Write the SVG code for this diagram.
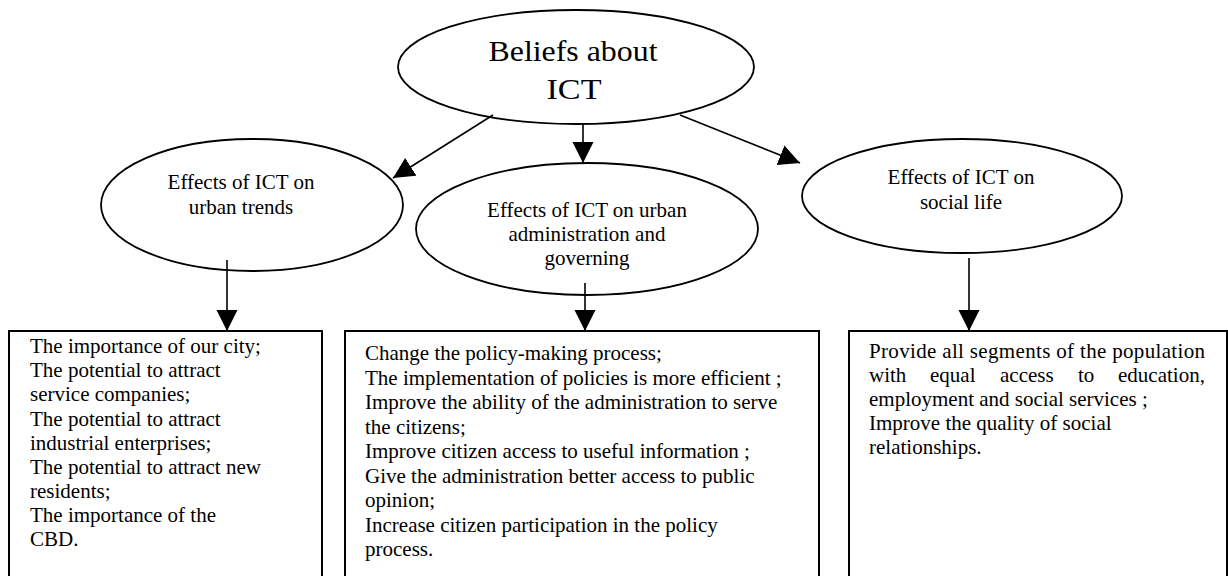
<svg xmlns="http://www.w3.org/2000/svg" width="1228" height="576" viewBox="0 0 1228 576">
<style>
  .shape { fill: #fff; stroke: #000; stroke-width: 1.8; }
  .box { fill: #fff; stroke: #000; stroke-width: 2; }
  .conn { stroke: #000; stroke-width: 1.6; fill: none; marker-end: url(#arrow); }
  text { font-family: "Liberation Serif", "Times New Roman", serif; fill: #000; }
  .title { font-size: 29px; text-anchor: middle; }
  .lbl { font-size: 21px; text-anchor: middle; }
  .body { font-size: 21px; }
</style>
<defs>
  <marker id="arrow" markerUnits="userSpaceOnUse" markerWidth="22" markerHeight="22" refX="21" refY="10.5" orient="auto" viewBox="0 0 22 22">
    <path d="M0,0 L21,10.5 L0,21 z" fill="#000"/>
  </marker>
</defs>
<rect width="1228" height="576" fill="#fff"/>

<g id="box-urban">
  <rect class="box" x="9" y="331" width="313" height="260"/>
  <text class="body">
    <tspan x="30" y="353">The importance of our city;</tspan>
    <tspan x="30" y="377">The potential to attract</tspan>
    <tspan x="30" y="401">service companies;</tspan>
    <tspan x="30" y="426">The potential to attract</tspan>
    <tspan x="30" y="450">industrial enterprises;</tspan>
    <tspan x="30" y="474">The potential to attract new</tspan>
    <tspan x="30" y="498">residents;</tspan>
    <tspan x="30" y="522">The importance of the</tspan>
    <tspan x="30" y="546">CBD.</tspan>
  </text>
</g>

<g id="box-admin">
  <rect class="box" x="345" y="331" width="474" height="260"/>
  <text class="body">
    <tspan x="365" y="360">Change the policy-making process;</tspan>
    <tspan x="365" y="385">The implementation of policies is more efficient ;</tspan>
    <tspan x="365" y="409">Improve the ability of the administration to serve</tspan>
    <tspan x="365" y="434">the citizens;</tspan>
    <tspan x="365" y="458">Improve citizen access to useful information ;</tspan>
    <tspan x="365" y="483">Give the administration better access to public</tspan>
    <tspan x="365" y="507">opinion;</tspan>
    <tspan x="365" y="532">Increase citizen participation in the policy</tspan>
    <tspan x="365" y="556">process.</tspan>
  </text>
</g>

<g id="box-social">
  <rect class="box" x="849" y="331" width="378" height="260"/>
  <text class="body">
    <tspan x="869" y="358" textLength="336" lengthAdjust="spacing">Provide all segments of the population</tspan>
    <tspan x="869" y="382">with</tspan><tspan x="930" y="382">equal</tspan><tspan x="1000" y="382">access</tspan><tspan x="1078" y="382">to</tspan><tspan x="1118" y="382">education,</tspan>
    <tspan x="869" y="406">employment and social services ;</tspan>
    <tspan x="869" y="430">Improve the quality of social</tspan>
    <tspan x="869" y="454">relationships.</tspan>
  </text>
</g>

<g id="node-beliefs">
  <ellipse class="shape" cx="576" cy="67" rx="178" ry="57"/>
  <text class="title"><tspan x="573" y="61" textLength="169" lengthAdjust="spacingAndGlyphs">Beliefs about</tspan></text>
  <text class="title"><tspan x="574" y="99" textLength="55" lengthAdjust="spacingAndGlyphs">ICT</tspan></text>
</g>

<g id="node-urban">
  <ellipse class="shape" cx="252" cy="205" rx="151" ry="66"/>
  <text class="lbl"><tspan x="241" y="189">Effects of ICT on</tspan><tspan x="241" y="214">urban trends</tspan></text>
</g>

<g id="node-admin">
  <ellipse class="shape" cx="587" cy="229" rx="171" ry="66"/>
  <text class="lbl"><tspan x="587" y="217">Effects of ICT on urban</tspan><tspan x="587" y="241">administration and</tspan><tspan x="587" y="265">governing</tspan></text>
</g>

<g id="node-social">
  <ellipse class="shape" cx="962" cy="196" rx="160" ry="57"/>
  <text class="lbl"><tspan x="961" y="184">Effects of ICT on</tspan><tspan x="961" y="209">social life</tspan></text>
</g>

<g id="connectors">
  <line class="conn" x1="493" y1="115" x2="393" y2="178"/>
  <line class="conn" x1="583" y1="123" x2="583" y2="163"/>
  <line class="conn" x1="680" y1="115" x2="800" y2="163"/>
  <line class="conn" x1="227" y1="260" x2="227" y2="331"/>
  <line class="conn" x1="585" y1="283" x2="585" y2="331"/>
  <line class="conn" x1="969" y1="258" x2="969" y2="331"/>
</g>
</svg>
